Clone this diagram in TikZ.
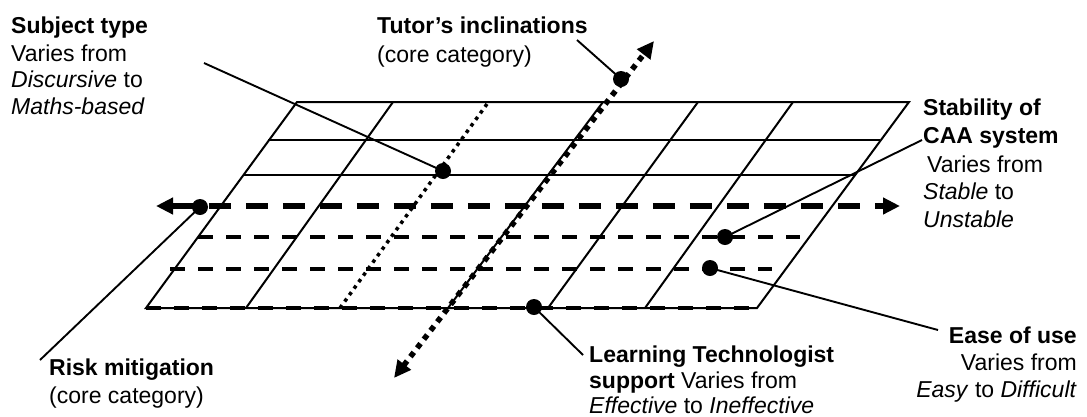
\documentclass[tikz,border=0pt]{standalone}
\usepackage{fontspec}
\setmainfont{Liberation Sans}
\usetikzlibrary{arrows.meta}
\begin{document}
\begin{tikzpicture}[x=1pt,y=-1pt,
  gridline/.style={line width=2pt},
  leader/.style={line width=1.9pt},
  dotnode/.style={circle,fill=black,inner sep=0pt,minimum size=16pt},
  lbl/.style={inner sep=0pt,font=\fontsize{23}{27}\selectfont},
  bigtip/.style={{Triangle[length=17pt,width=16pt]}-{Triangle[length=17pt,width=16pt]}},
  thickdash/.style={line width=5.5pt,dash pattern=on 22pt off 15pt},
  rowdash/.style={line width=4.5pt,dash pattern=on 15pt off 13pt},
  thickdot/.style={line width=5.5pt,dash pattern=on 5.5pt off 5.5pt},
  thindot/.style={line width=3.5pt,dash pattern=on 3.5pt off 4.5pt}
]
\useasboundingbox (0,0) rectangle (1087,416);

% parallelogram
\coordinate (BL) at (146,308);
\coordinate (BR) at (757,308);
\coordinate (TR) at (909,102);
\coordinate (TL) at (297,102);
\draw[gridline] (BL) -- (BR) -- (TR) -- (TL) -- cycle;

% solid rows
\draw[gridline] (268,140) -- (880,140);
\draw[gridline] (244,175) -- (855,175);

% solid columns
\draw[gridline] (246,308) -- (393,102);
\draw[gridline] (448,308) -- (603,102);
\draw[gridline] (548,308) -- (698,102);
\draw[gridline] (645,308) -- (793,102);

% thin dotted column
\draw[thindot] (340,308) -- (487,104);

% dashed rows
\draw[rowdash] (198,237) -- (800,237);
\draw[rowdash] (170,269) -- (772,269);
\draw[rowdash] (146,308) -- (752,308);

% thick dashed double arrow
\coordinate (hL) at (156,206);
\coordinate (hR) at (900,206);
\draw[thickdash,bigtip] (hL) -- (hR);

% thick dotted double arrow
\coordinate (vB) at (394,378);
\coordinate (vT) at (654,41);
\draw[thickdot,bigtip] (vB) -- (vT);

% dots
\node[dotnode] (dSubj) at (443,171) {};
\node[dotnode] (dTutor) at (621,79) {};
\node[dotnode] (dStab) at (725,237) {};
\node[dotnode] (dEase) at (710,268) {};
\node[dotnode] (dLT) at (534,307) {};
\node[dotnode] (dRisk) at (200,207) {};

% leader ends
\coordinate (eSubj) at (204,63);
\coordinate (eTutor) at (577,40);
\coordinate (eStab) at (922,140);
\coordinate (eEase) at (938,330);
\coordinate (eLT) at (583,355);
\coordinate (eRisk) at (40,360);

\draw[leader] (eSubj) -- (dSubj.center);
\draw[leader] (eTutor) -- (dTutor.center);
\draw[leader] (eStab) -- (dStab.center);
\draw[leader] (eEase) -- (dEase.center);
\draw[leader] (eLT) -- (dLT.center);
\draw[leader] (eRisk) -- (dRisk.center);

% labels
\node[lbl,anchor=base west] (s1) at (11,33) {\textbf{Subject type}};
\node[lbl,anchor=base west] (s2) at (11,61) {Varies from};
\node[lbl,anchor=base west] (s3) at (11,87) {\textit{Discursive} to};
\node[lbl,anchor=base west] (s4) at (11,114) {\textit{Maths-based}};

\node[lbl,anchor=base west] (t1) at (377,33) {\textbf{Tutor’s inclinations}};
\node[lbl,anchor=base west] (t2) at (377,62) {(core category)};

\node[lbl,anchor=base west] (c1) at (923,115) {\textbf{Stability of}};
\node[lbl,anchor=base west] (c2) at (923,143) {\textbf{CAA system}};
\node[lbl,anchor=base west] (c3) at (927,172) {Varies from};
\node[lbl,anchor=base west] (c4) at (923,199) {\textit{Stable} to};
\node[lbl,anchor=base west] (c5) at (923,227) {\textit{Unstable}};

\node[lbl,anchor=base west] (r1) at (49,375) {\textbf{Risk mitigation}};
\node[lbl,anchor=base west] (r2) at (49,403) {(core category)};

\node[lbl,anchor=base west] (l1) at (589,362) {\textbf{Learning Technologist}};
\node[lbl,anchor=base west] (l2) at (589,388) {\textbf{support} Varies from};
\node[lbl,anchor=base west] (l3) at (589,413) {\textit{Effective} to \textit{Ineffective}};

\node[lbl,anchor=base east] (u1) at (1077,343) {\textbf{Ease of use}};
\node[lbl,anchor=base east] (u2) at (1077,370) {Varies from};
\node[lbl,anchor=base east] (u3) at (1077,397) {\textit{Easy} to \textit{Difficult}};
\end{tikzpicture}
\end{document}
